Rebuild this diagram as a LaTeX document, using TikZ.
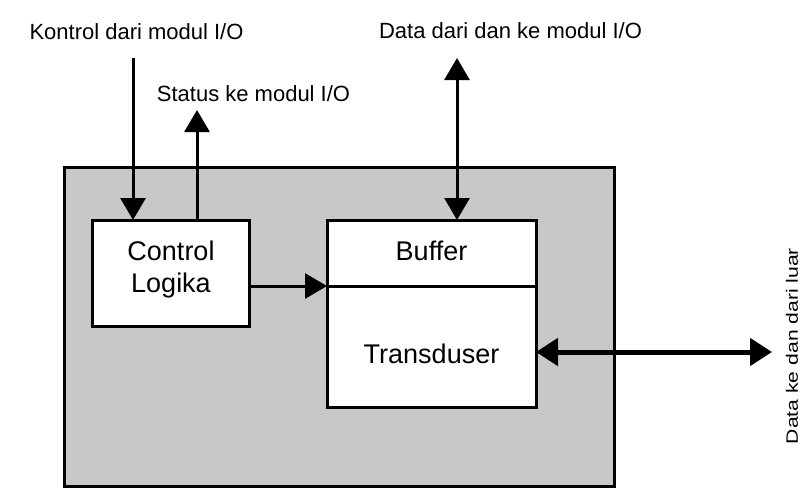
\documentclass[tikz,border=0pt]{standalone}
\usepackage{fontspec}
\setmainfont{Liberation Sans}
\usetikzlibrary{arrows.meta}
\definecolor{modgrey}{RGB}{200,200,200}
\begin{document}
\begin{tikzpicture}[x=1pt,y=-1pt,
  box/.style={draw=black,line width=3pt,fill=white,inner sep=0pt,outer sep=0pt},
  lbl/.style={font=\fontsize{22}{26}\selectfont,inner sep=0pt,anchor=base},
  intxt/.style={font=\fontsize{27}{32}\selectfont,inner sep=0pt,anchor=base},
  arr/.style={line width=3pt,-{Triangle[length=22pt,width=25pt]}},
  darr/.style={line width=3pt,{Triangle[length=22pt,width=25pt]}-{Triangle[length=22pt,width=25pt]}},
  thick arr/.style={line width=5pt,{Triangle[length=22pt,width=27pt]}-{Triangle[length=22pt,width=27pt]}}]
\useasboundingbox (0,0) rectangle (804,488);
\fill[white] (0,0) rectangle (804,488);
% outer module
\node[draw=black,line width=3pt,fill=modgrey,inner sep=0pt,minimum width=550pt,minimum height=319pt] (mod) at (339,326.5) {};
% inner boxes
\node[box,minimum width=157pt,minimum height=106pt] (ctrl) at (170.5,273) {};
\node[box,minimum width=209pt,minimum height=66pt] (buf) at (431.5,253) {};
\node[box,minimum width=209pt,minimum height=121pt] (trans) at (431.5,346.5) {};
% inner texts
\node[intxt] (t1) at (171,260) {Control};
\node[intxt] (t2) at (171,292) {Logika};
\node[intxt] (t3) at (431.5,260) {Buffer};
\node[intxt] (t4) at (431.5,363) {Transduser};
% labels
\node[lbl] (lk) at (136.5,39) {Kontrol dari modul I/O};
\node[lbl] (ls) at (253.5,101.5) {Status ke modul I/O};
\node[lbl] (ld) at (510.5,38.5) {Data dari dan ke modul I/O};
\node[rotate=90,inner sep=0pt,font=\fontsize{16.5}{20}\selectfont] (lr) at (792,346) {\scalebox{1.28}[1]{Data ke dan dari luar}};
% free ends
\coordinate (kin) at (133,58);
\coordinate (sout) at (197,110);
\coordinate (dend) at (457,58);
\coordinate (xend) at (772,352);
% connectors
\draw[arr] (kin) -- (kin |- ctrl.north);
\draw[arr] (sout |- ctrl.north) -- (sout);
\draw[darr] (dend) -- (dend |- buf.north);
\draw[arr] (ctrl.east |- buf.south) -- (buf.south west);
\draw[thick arr] (trans.east |- xend) -- (xend);
\end{tikzpicture}
\end{document}
